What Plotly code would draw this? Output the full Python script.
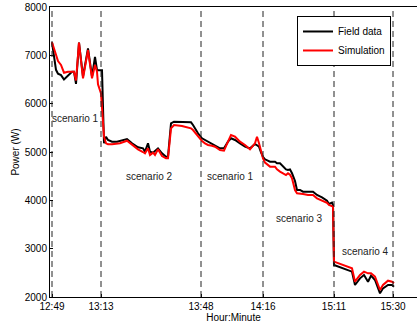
import plotly.graph_objects as go

# sample index (one sample per step)
sample = [0, 2, 4, 6, 9, 12, 16, 20, 22, 24, 27, 31, 36, 40, 43, 45, 46, 49, 50, 52,
          54, 56, 60, 65, 68, 75, 80, 86, 91, 93, 96, 98, 101, 103, 106, 110, 114, 116, 119, 122,
          130, 136, 139, 141, 146, 150, 153, 156, 160, 163, 168, 172, 176, 179, 183, 188, 193, 198, 203, 205,
          207, 209, 211, 213, 216, 218, 223, 225, 228, 231, 234, 236, 238, 240, 243, 245, 248, 251, 256, 261,
          265, 270, 275, 277, 280, 281, 282, 286, 291, 296, 300, 303, 308, 312, 316, 319, 323, 328, 331, 336,
          340, 342]

field = [7270, 6940, 6700, 6620, 6590, 6500, 6590, 6660, 6660, 6410, 7262, 6560, 7145, 6560, 6970, 6700, 6690, 6680, 6690, 5180,
         5317, 5250, 5214, 5214, 5228, 5269, 5180, 5097, 5076, 5006, 5180, 5006, 4986, 5030, 5076, 4973, 4903, 4903, 5593, 5628,
         5628, 5625, 5614, 5559, 5387, 5283, 5248, 5214, 5180, 5145, 5076, 5076, 5214, 5283, 5248, 5180, 5110, 5076, 5165, 5140,
         5110, 4990, 4900, 4849, 4820, 4800, 4800, 4766, 4766, 4700, 4640, 4628, 4641, 4560, 4400, 4214, 4214, 4179, 4179, 4179,
         4110, 4062, 3993, 3924, 3952, 3900, 2662, 2628, 2593, 2559, 2524, 2248, 2386, 2455, 2317, 2441, 2352, 2076, 2179, 2248,
         2248, 2214]

simulation = [7270, 7140, 7000, 6880, 6800, 6640, 6660, 6670, 6660, 6480, 7262, 6525, 7110, 6525, 6800, 6662, 6400, 6214, 5900, 5317,
              5180, 5159, 5159, 5165, 5180, 5234, 5145, 5056, 5000, 4973, 5076, 4937, 4986, 4937, 5056, 4917, 4869, 4869, 5490, 5559,
              5538, 5511, 5490, 5455, 5317, 5228, 5180, 5145, 5130, 5110, 5041, 5027, 5214, 5352, 5317, 5214, 5145, 5056, 5180, 5317,
              5180, 5000, 4869, 4780, 4720, 4697, 4697, 4640, 4593, 4560, 4524, 4559, 4530, 4455, 4214, 4145, 4145, 4130, 4110, 4110,
              4041, 4000, 3950, 3903, 3883, 3870, 2731, 2697, 2662, 2620, 2593, 2317, 2455, 2524, 2490, 2490, 2421, 2145, 2248, 2338,
              2317, 2283]

tick_pos = [0, 49, 149, 211, 282, 341]
tick_labels = ["12:49", "13:13", "13:48", "14:16", "15:11", "15:30"]

scen_labels = ["scenario 1", "scenario 2", "scenario 1", "scenario 3", "scenario 4"]
scen_x = [23.5, 97.3, 178.5, 247.3, 313.3]
scen_y = [5703, 4489, 4489, 3614, 2937]

fig = go.Figure()
fig.add_trace(go.Scatter(x=sample, y=field, mode="lines", name="Field data",
                         line=dict(color="black", width=2)))
fig.add_trace(go.Scatter(x=sample, y=simulation, mode="lines", name="Simulation",
                         line=dict(color="#ff0000", width=2)))

for tp in tick_pos:
    fig.add_shape(type="line", x0=tp, x1=tp, y0=0, y1=1, xref="x", yref="paper",
                  line=dict(color="#222222", width=1, dash="6px,4px"), layer="above")

for t, xx, yy in zip(scen_labels, scen_x, scen_y):
    fig.add_annotation(x=xx, y=yy, text=t, showarrow=False,
                       font=dict(size=10, color="#222222"))

fig.update_layout(
    width=417, height=329,
    margin=dict(l=50, r=0, t=7, b=32, autoexpand=False),
    paper_bgcolor="white", plot_bgcolor="white",
    font=dict(family="Liberation Sans, Arial, sans-serif", size=10, color="black"),
    showlegend=True,
    legend=dict(x=0.673, y=0.969, xanchor="left", yanchor="top",
                bordercolor="black", borderwidth=1, bgcolor="white",
                font=dict(size=10), tracegroupgap=0, itemwidth=30),
    xaxis=dict(range=[-2, 365], tickmode="array", tickvals=tick_pos, ticktext=tick_labels,
               showgrid=False, zeroline=False, showline=True, linecolor="black", linewidth=1,
               mirror=True, ticks="inside", ticklen=3, tickcolor="black", automargin=False,
               title=dict(text="Hour:Minute", font=dict(size=10), standoff=1)),
    yaxis=dict(range=[2000, 8000], tickvals=[2000, 3000, 4000, 5000, 6000, 7000, 8000],
               showgrid=False, zeroline=False, showline=True, linecolor="black", linewidth=1,
               mirror=False, ticks="inside", ticklen=3, tickcolor="black", automargin=False,
               title=dict(text="Power (W)", font=dict(size=10), standoff=3)),
)

fig.write_html("out.html", config={"displayModeBar": False},
               post_script="document.body.style.margin='0';document.body.style.padding='0';")
